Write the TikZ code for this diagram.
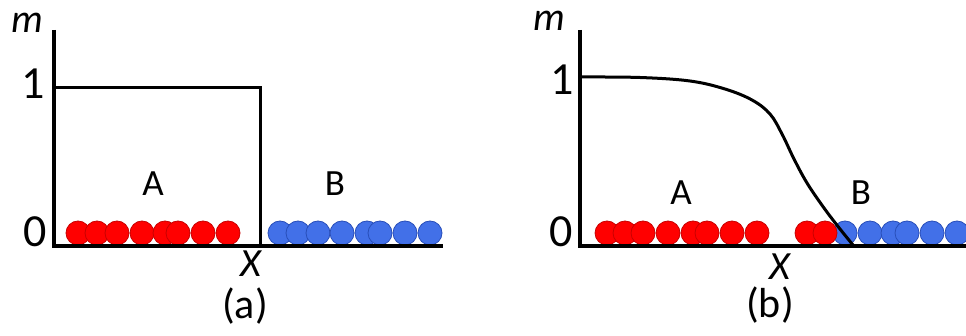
\documentclass[tikz,border=0pt]{standalone}
\usepackage{fontspec}
\setmainfont{Carlito}
\definecolor{ared}{RGB}{255,0,0}
\definecolor{aredline}{RGB}{200,0,0}
\definecolor{bblue}{RGB}{66,112,232}
\definecolor{bblueline}{RGB}{40,78,185}
\tikzset{
  axisline/.style={line width=4.5pt, line join=miter},
  profile/.style={line width=3pt, line join=round},
  atomA/.style={fill=ared, draw=aredline, line width=0.8pt},
  atomB/.style={fill=bblue, draw=bblueline, line width=0.8pt},
  ticklab/.style={font=\fontsize{46}{46}\selectfont, inner sep=0pt},
  axislab/.style={font=\fontsize{40}{40}\selectfont\itshape, inner sep=0pt},
  phaselab/.style={font=\fontsize{37}{37}\selectfont, inner sep=0pt},
  caption/.style={font=\fontsize{42}{42}\selectfont, inner sep=0pt},
}
\begin{document}
\begin{tikzpicture}[x=1pt, y=-1pt]
\useasboundingbox (0,0) rectangle (966,336);
\fill[white] (0,0) rectangle (966,336);

% ---------- panel (a): sharp interface ----------
\foreach \cx in {280,298,318,342,367,380,405,430}
  \draw[atomB] (\cx,233) circle (12);
\foreach \cx in {78,97,117,142,165,178,203,228}
  \draw[atomA] (\cx,233) circle (12);
\draw[axisline] (54,30) -- (54,246) -- (443,246);
\draw[profile, line join=miter] (56,87.5) -- (260,87.5) -- (260,246);

\node[axislab] (ma) at (27,23) {m};
\node[ticklab] (onea) at (33,84) {1};
\node[ticklab] (zeroa) at (35,232) {0};
\node[phaselab] (Aa) at (153,184) {A};
\node[phaselab] (Ba) at (335,184) {B};
\node[axislab] (xa) at (251,264) {X};
\node[caption] (capa) at (245,306) {(a)};

% ---------- panel (b): diffuse interface ----------
\begin{scope}
\clip (570,0) rectangle (966,336);
\foreach \cx in {845,870,893,907,932,957}
  \draw[atomB] (\cx,233) circle (12);
\foreach \cx in {607,625,643,668,693,707,732,757,807,825}
  \draw[atomA] (\cx,233) circle (12);
\end{scope}
\draw[axisline] (580,30) -- (580,246) -- (970,246);
\draw[profile] plot[smooth, tension=0.6] coordinates {
  (582,77) (640,77.5) (690,81) (725,89) (752,100) (770,114)
  (782,134) (794,159) (807,183) (824,208) (840,229) (853,245)};

\node[axislab] (mb) at (549,21) {m};
\node[ticklab] (oneb) at (562,80) {1};
\node[ticklab] (zerob) at (561,232) {0};
\node[phaselab] (Ab) at (681,193) {A};
\node[phaselab] (Bb) at (861,193) {B};
\node[axislab] (xb) at (780,267) {X};
\node[caption] (capb) at (770,305) {(b)};
\end{tikzpicture}
\end{document}
